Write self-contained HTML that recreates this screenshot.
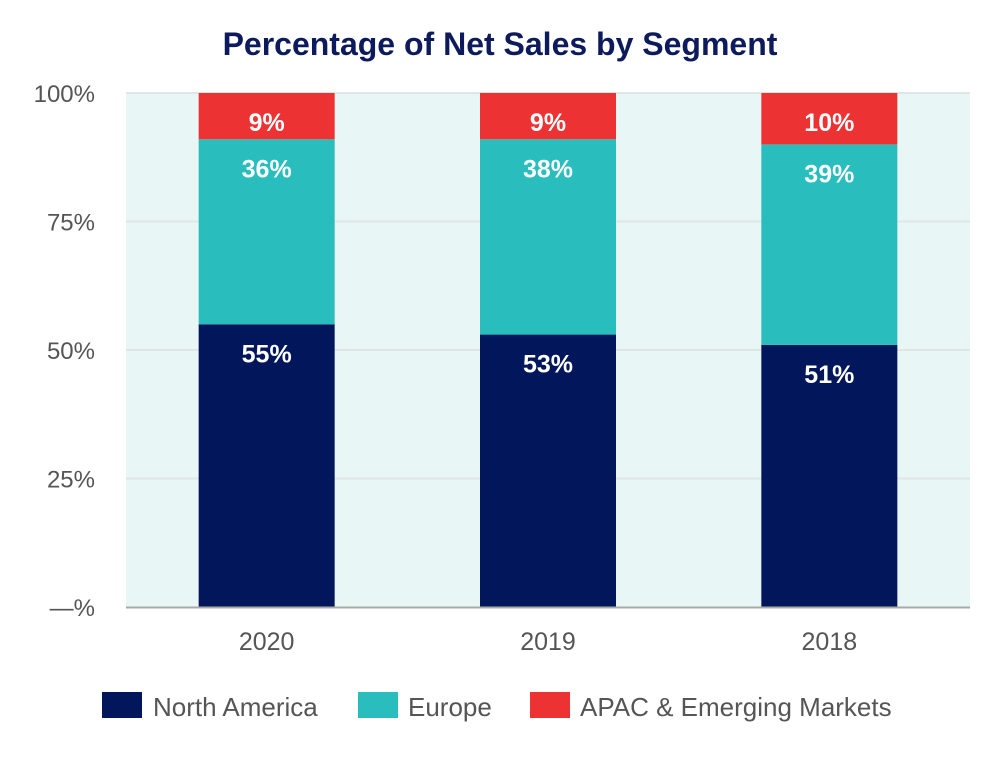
<!DOCTYPE html>
<html><head><meta charset="utf-8"><style>
body{margin:0;background:#fff;}
svg text{font-family:"Liberation Sans",Arial,sans-serif;}
</style></head><body>
<svg id="chart" width="1000" height="760" xmlns="http://www.w3.org/2000/svg">
<text x="500" y="55" text-anchor="middle" font-size="32" font-weight="bold" fill="#0d1a5c">Percentage of Net Sales by Segment</text>
<rect x="126" y="93" width="844" height="514" fill="#e8f6f5"/>
<g id="grid"></g>
<g id="bars"></g>
<line x1="126" x2="970" y1="607.5" y2="607.5" stroke="#a9a9a9" stroke-width="2"/>
<g id="xlabels"></g>
<g>
<rect x="102" y="692" width="40" height="26" fill="#02165c"/>
<text x="153" y="716" font-size="26" fill="#555">North America</text>
<rect x="358" y="692" width="40" height="26" fill="#2abdbd"/>
<text x="408" y="716" font-size="26" fill="#555">Europe</text>
<rect x="530" y="692" width="40" height="26" fill="#ed3233"/>
<text x="580" y="716" font-size="26" fill="#555">APAC &amp; Emerging Markets</text>
</g>
</svg>
<script>
const categories=["2020","2019","2018"];
const northAmerica=[55,53,51];
const europe=[36,38,39];
const apac=[9,9,10];
const yTicks=[0,25,50,75,100];
const yTickLabels=["—%","25%","50%","75%","100%"];
const NS="http://www.w3.org/2000/svg";
const x0=126,x1=970,yTop=93,yBot=607;
const y=v=>yBot-(v/100)*(yBot-yTop);
const band=(x1-x0)/categories.length;
const bx=i=>x0+band*i+band/2;
const bw=136;
function mk(tag,attrs,parent){const e=document.createElementNS(NS,tag);for(const k in attrs)e.setAttribute(k,attrs[k]);parent.appendChild(e);return e;}
const grid=document.getElementById('grid');
yTicks.forEach((t,i)=>{
  if(t>0){const l=mk('line',{x1:x0,x2:x1,y1:y(t),y2:y(t),stroke:'#e0e6e6','stroke-width':2},grid);
  
  }
  const tx=mk('text',{x:95,y:y(t)+9,'text-anchor':'end','font-size':24,fill:'#555'},grid);
  tx.textContent=yTickLabels[i];
  
  
});
const bars=document.getElementById('bars');
const series=[[northAmerica,'#02165c','north-america'],[europe,'#2abdbd','europe'],[apac,'#ed3233','apac']];
categories.forEach((c,i)=>{
  let base=0;
  series.forEach(([arr,col,nm])=>{
    const v=arr[i];
    const r=mk('rect',{x:bx(i)-bw/2,y:y(base+v),width:bw,height:y(base)-y(base+v),fill:col},bars);
    
    
    const t=mk('text',{x:bx(i),y:y(base+v)+38,'text-anchor':'middle','font-size':25,'font-weight':'bold',fill:'#fff'},bars);
    t.textContent=v+'%';
    
    
    base+=v;
  });
  const xl=mk('text',{x:bx(i),y:650,'text-anchor':'middle','font-size':25,fill:'#555'},document.getElementById('xlabels'));
  xl.textContent=c;
  
  
});
</script>
</body></html>
